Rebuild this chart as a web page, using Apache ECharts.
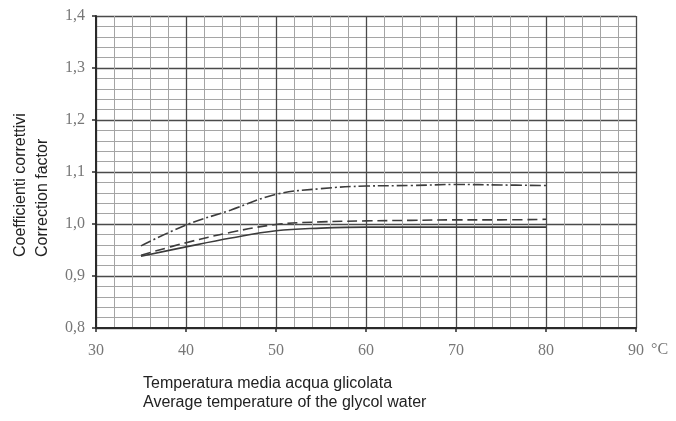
<!DOCTYPE html>
<html>
<head>
<meta charset="utf-8">
<script src="https://cdn.jsdelivr.net/npm/echarts@6/dist/echarts.min.js"></script>
<style>
  html, body { margin: 0; padding: 0; background: #fff; }
  #chart { width: 676px; height: 421px; }
</style>
</head>
<body>
<div id="chart"></div>
<script>
// temperature (°C) points
const temps = [35, 40, 45, 50, 55, 60, 65, 70, 75, 80];

const solidValues = [0.938, 0.956, 0.973, 0.987, 0.992, 0.994, 0.994, 0.994, 0.994, 0.994];
const dashedValues = [0.940, 0.964, 0.984, 0.999, 1.004, 1.006, 1.007, 1.008, 1.008, 1.009];
const dashDotValues = [0.958, 0.998, 1.027, 1.057, 1.068, 1.073, 1.074, 1.076, 1.075, 1.074];

const yTitle = ["Coefficienti correttivi", "Correction factor"];
const xTitle = ["Temperatura media acqua glicolata", "Average temperature of the glycol water"];

const toPairs = (vals) => vals.map((v, i) => [temps[i], v]);

const chart = echarts.init(document.getElementById("chart"));
const lineColor = "#3c3c3c";
const tickFont = "'Liberation Serif', serif";

chart.setOption({
  animation: false,
  grid: { left: 96, right: 40, top: 16, bottom: 93 },
  xAxis: {
    type: "value",
    min: 30,
    max: 90,
    interval: 10,
    axisLine: { lineStyle: { color: "#2a2a2a", width: 2 } },
    axisTick: { show: true, length: 4, lineStyle: { color: "#2a2a2a", width: 1.5 } },
    axisLabel: { color: "#777", fontFamily: tickFont, fontSize: 16, margin: 15 },
    splitLine: { show: true, lineStyle: { color: "#4a4a4a", width: 1.3 } },
    minorTick: { show: false, splitNumber: 5 },
    minorSplitLine: { show: true, lineStyle: { color: "#a5a5a5", width: 1 } },
  },
  yAxis: {
    type: "value",
    min: 0.8,
    max: 1.4,
    interval: 0.1,
    axisLine: { show: true, lineStyle: { color: "#2a2a2a", width: 2 } },
    axisTick: { show: true, length: 4, lineStyle: { color: "#2a2a2a", width: 1.5 } },
    axisLabel: {
      color: "#777",
      fontFamily: tickFont,
      fontSize: 16,
      margin: 11,
      formatter: (v) => v.toFixed(1).replace(".", ","),
    },
    splitLine: { show: true, lineStyle: { color: "#4a4a4a", width: 1.3 } },
    minorTick: { show: false, splitNumber: 5 },
    minorSplitLine: { show: true, lineStyle: { color: "#a5a5a5", width: 1 } },
  },
  graphic: [
    {
      type: "text",
      x: 10,
      y: 257,
      rotation: Math.PI / 2,
      style: {
        text: yTitle.join("\n"),
        font: "16px 'Liberation Sans', Arial, sans-serif",
        fill: "#222",
        lineHeight: 22,
        align: "left",
        verticalAlign: "top",
      },
    },
    {
      type: "text",
      x: 143,
      y: 374,
      style: {
        text: xTitle.join("\n"),
        font: "16px 'Liberation Sans', Arial, sans-serif",
        fill: "#222",
        lineHeight: 19,
        align: "left",
        verticalAlign: "top",
      },
    },
    {
      type: "text",
      x: 651,
      y: 342,
      style: {
        text: "°C",
        font: "16px 'Liberation Serif', serif",
        fill: "#777",
        align: "left",
        verticalAlign: "top",
      },
    },
  ],
  series: [
    {
      name: "solid",
      type: "line",
      smooth: 0.4,
      symbol: "none",
      data: toPairs(solidValues),
      lineStyle: { color: lineColor, width: 1.6, type: "solid" },
    },
    {
      name: "dashed",
      type: "line",
      smooth: 0.4,
      symbol: "none",
      data: toPairs(dashedValues),
      lineStyle: { color: lineColor, width: 1.6, type: [10, 5] },
    },
    {
      name: "dashdot",
      type: "line",
      smooth: 0.4,
      symbol: "none",
      data: toPairs(dashDotValues),
      lineStyle: { color: lineColor, width: 1.6, type: [11, 3, 2, 3] },
    },
  ],
});
</script>
</body>
</html>
